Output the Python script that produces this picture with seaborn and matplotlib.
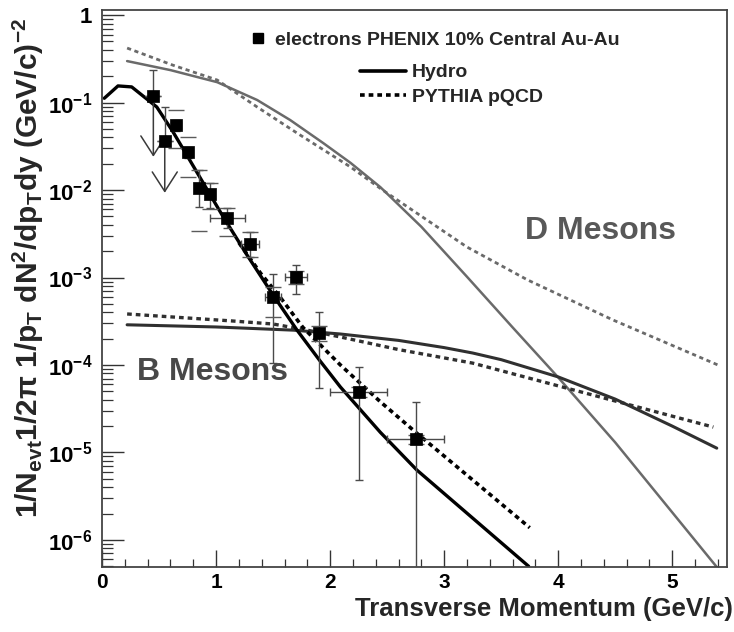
import matplotlib

matplotlib.use("Agg")
import matplotlib.pyplot as plt
import numpy as np
import pandas as pd
import seaborn as sns
from matplotlib.lines import Line2D
from matplotlib.ticker import FixedLocator, FuncFormatter, LogLocator, MultipleLocator, NullFormatter

# PHENIX non-photonic electrons, 10% central Au-Au
electron_pt = [0.45, 0.55, 0.65, 0.75, 0.85, 0.95, 1.1, 1.3, 1.5, 1.7, 1.9, 2.25, 2.75]
electron_yield = [0.119, 0.036, 0.055, 0.027, 0.0105, 0.009, 0.0048, 0.0024, 6.0e-4, 1.02e-3, 2.3e-4, 4.9e-5, 1.42e-5]
stat_high = [0.235, 0.089, 0.064, 0.031, 0.017, 0.012, 0.0062, 0.0033, 1.1e-3, 1.38e-3, 4.05e-4, 9.5e-5, 3.8e-5]
stat_low = [0.119, 0.036, 0.047, 0.023, 0.0064, 0.0062, 0.0037, 0.0017, 1.05e-4, 6.5e-4, 5.5e-5, 4.9e-6, 1e-9]
sys_high = [0.119, 0.036, 0.082, 0.040, 0.017, 0.012, 0.0063, 0.0033, 7.8e-4, 1.2e-3, 2.8e-4, 5.6e-5, 1.6e-5]
sys_low = [0.119, 0.036, 0.030, 0.014, 0.0034, 0.006, 0.0030, 0.0017, 3.5e-4, 8.5e-4, 1.9e-4, 4.3e-5, 1.25e-5]
pt_err = [0, 0, 0.04, 0.04, 0, 0, 0.15, 0.08, 0.07, 0.1, 0.03, 0.25, 0.25]
limit_pt = [0.45, 0.55]
limit_from = [0.119, 0.036]
limit_to = [0.024, 0.0093]

# Hydro and PYTHIA electrons
hydro_e_pt = [0.02, 0.14, 0.26, 0.48, 0.62, 0.77, 0.92, 1.06, 1.27, 1.5, 1.71, 1.91, 2.09, 2.44, 2.76, 3.74]
hydro_e = [0.112, 0.155, 0.151, 0.089, 0.0468, 0.0219, 0.0102, 0.0050, 0.00182, 6.3e-4, 2.5e-4, 1.12e-4, 5.6e-5, 1.7e-5, 6.3e-6, 5.0e-7]
pythia_e_pt = [1.2, 1.39, 1.56, 1.76, 2.09, 2.44, 2.76, 3.75]
pythia_e = [0.0025, 0.00112, 6.0e-4, 2.7e-4, 1.0e-4, 3.8e-5, 1.66e-5, 1.38e-6]

# D mesons
hydro_d_pt = [0.22, 0.6, 1.01, 1.36, 1.65, 1.94, 2.18, 2.44, 2.8, 3.2, 3.6, 4.0, 4.5, 5.39]
hydro_d = [0.298, 0.235, 0.171, 0.107, 0.0631, 0.0344, 0.0204, 0.0108, 0.0038, 0.00102, 2.69e-4, 7.2e-5, 1.3e-5, 4.9e-7]
pythia_d_pt = [0.22, 0.62, 1.01, 1.36, 1.71, 2.18, 2.46, 3.2, 3.73, 4.48, 5.4]
pythia_d = [0.42, 0.268, 0.181, 0.089, 0.0448, 0.0183, 0.0100, 0.00223, 9.4e-4, 3.27e-4, 1.0e-4]

# B mesons
hydro_b_pt = [0.22, 1.0, 1.68, 2.09, 2.6, 3.0, 3.25, 3.5, 4.0, 4.5, 5.0, 5.39]
hydro_b = [2.88e-4, 2.72e-4, 2.5e-4, 2.26e-4, 1.91e-4, 1.58e-4, 1.37e-4, 1.15e-4, 7.3e-5, 4.07e-5, 2.0e-5, 1.12e-5]
pythia_b_pt = [0.22, 1.15, 1.5, 1.8, 2.09, 2.6, 3.25, 4.13, 5.36]
pythia_b = [3.83e-4, 3.18e-4, 2.94e-4, 2.5e-4, 2.09e-4, 1.5e-4, 1.05e-4, 5.2e-5, 1.95e-5]

sns.set_theme(style="ticks")
plt.rcParams.update(
    {
        "font.family": ["Liberation Sans", "DejaVu Sans"],
        "font.weight": "bold",
        "mathtext.fontset": "custom",
        "mathtext.rm": "Liberation Sans:bold",
        "mathtext.it": "Liberation Sans:bold",
        "mathtext.bf": "Liberation Sans:bold",
        "mathtext.default": "bf",
    }
)

fig = plt.figure(figsize=(7.34, 6.32), dpi=100)
ax = fig.add_axes([0.139, 0.1028, 0.8515, 0.8812])

curves = [
    (hydro_d_pt, hydro_d, "#6a6a6a", "-", 1.8),
    (pythia_d_pt, pythia_d, "#6a6a6a", (0, (1.5, 1.3)), 2.0),
    (hydro_b_pt, hydro_b, "#303030", "-", 2.2),
    (pythia_b_pt, pythia_b, "#303030", (0, (1.4, 1.2)), 2.4),
    (hydro_e_pt, hydro_e, "black", "-", 2.4),
    (pythia_e_pt, pythia_e, "black", (0, (1.3, 1.1)), 2.6),
]
for pt, values, color, style, width in curves:
    sns.lineplot(x=pt, y=values, color=color, linestyle=style, linewidth=width, ax=ax, sort=False)

points = pd.DataFrame(
    {
        "pt": electron_pt,
        "yield": electron_yield,
        "stat_hi": stat_high,
        "stat_lo": stat_low,
        "sys_hi": sys_high,
        "sys_lo": sys_low,
        "pt_err": pt_err,
    }
)
ax.errorbar(
    points["pt"],
    points["yield"],
    xerr=points["pt_err"],
    yerr=[points["yield"] - points["stat_lo"], points["stat_hi"] - points["yield"]],
    fmt="none",
    ecolor="#4a4a4a",
    elinewidth=1.0,
    capsize=3,
    capthick=1.0,
    zorder=4,
)
ax.errorbar(
    points["pt"],
    points["yield"],
    yerr=[points["yield"] - points["sys_lo"], points["sys_hi"] - points["yield"]],
    fmt="none",
    ecolor="#5a5a5a",
    elinewidth=0,
    capsize=6,
    capthick=1.0,
    zorder=4,
)
for pt, start, end in zip(limit_pt, limit_from, limit_to):
    ax.annotate(
        "",
        xy=(pt, end),
        xytext=(pt, start),
        arrowprops=dict(arrowstyle="->,head_length=0.7,head_width=0.45", color="#3a3a3a", lw=1.1, mutation_scale=20, shrinkA=0, shrinkB=0),
        zorder=4,
    )
sns.scatterplot(data=points, x="pt", y="yield", marker="s", s=70, color="black", edgecolor="black", linewidth=0.5, ax=ax, zorder=5)

ax.set_yscale("log")
ax.set_xlim(0, 5.48)
ax.set_ylim(10**-6.31, 10**0.057)

ax.yaxis.set_major_locator(FixedLocator([10.0**k for k in range(-6, 1)]))
ax.yaxis.set_minor_locator(LogLocator(base=10, subs=np.arange(2, 10)))
ax.yaxis.set_minor_formatter(NullFormatter())
ax.yaxis.set_major_formatter(
    FuncFormatter(lambda v, _: "1" if v >= 0.99 else rf"$10^{{{int(round(np.log10(v)))}}}$")
)
ax.xaxis.set_major_locator(MultipleLocator(1))
ax.xaxis.set_minor_locator(MultipleLocator(0.2))

ax.tick_params(which="both", direction="in", top=False, right=False, colors="#333333", labelcolor="black", labelsize=16, pad=7)
ax.tick_params(axis="x", which="both", labelsize=15, pad=4)
ax.tick_params(axis="y", which="major", length=16, width=1.0)
ax.tick_params(axis="y", which="minor", length=8, width=0.9)
ax.tick_params(axis="x", which="major", length=12, width=1.0)
ax.tick_params(axis="x", which="minor", length=6, width=0.9)
for spine in ax.spines.values():
    spine.set_color("#444444")
    spine.set_linewidth(1.3)

ax.set_xlabel("Transverse Momentum (GeV/c)", fontsize=18.5, fontweight="bold", loc="right")
ax.xaxis.set_label_coords(1.01, -0.054)
ax.set_ylabel(
    r"1/N$_{evt}$1/2$\pi$ 1/p$_{T}$ dN$^{2}$/dp$_{T}$dy (GeV/c)$^{-2}$",
    fontsize=21.5,
    fontweight="bold",
    loc="top",
)
ax.yaxis.set_label_coords(-0.09, 0.985)

ax.text(0.797, 0.603, "D Mesons", transform=ax.transAxes, ha="center", va="center", fontsize=23, fontweight="bold", color="#585858")
ax.text(0.176, 0.35, "B Mesons", transform=ax.transAxes, ha="center", va="center", fontsize=23, fontweight="bold", color="#484848")

electron_legend = ax.legend(
    handles=[Line2D([], [], marker="s", linestyle="none", color="black", markersize=7)],
    labels=["electrons PHENIX 10% Central Au-Au"],
    loc="center left",
    bbox_to_anchor=(0.237, 0.946),
    frameon=False,
    fontsize=14,
    handlelength=0.8,
    handletextpad=0.5,
    borderpad=0,
    borderaxespad=0,
)
ax.add_artist(electron_legend)
ax.legend(
    handles=[
        Line2D([], [], color="black", linewidth=2.6),
        Line2D([], [], color="black", linewidth=2.6, linestyle=(0, (1.3, 1.1))),
    ],
    labels=["Hydro", "PYTHIA pQCD"],
    loc="center left",
    bbox_to_anchor=(0.413, 0.866),
    frameon=False,
    fontsize=14,
    handlelength=2.35,
    handletextpad=0.3,
    labelspacing=0.35,
    borderpad=0,
    borderaxespad=0,
)

fig.savefig("out.png", dpi=100)
